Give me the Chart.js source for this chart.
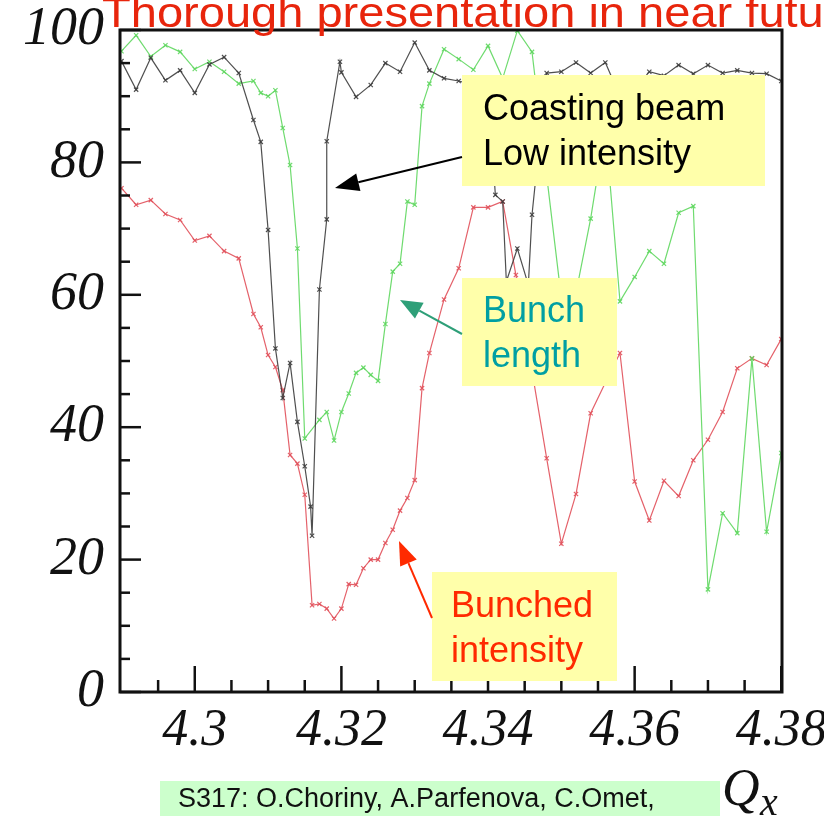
<!DOCTYPE html>
<html>
<head>
<meta charset="utf-8">
<script src="https://cdn.jsdelivr.net/npm/chart.js@4.4.1/dist/chart.umd.min.js"></script>
<style>
  html, body { margin: 0; padding: 0; background: #fff; overflow: hidden; }
  canvas { display: block; }
</style>
</head>
<body>
<canvas id="c" width="824" height="816"></canvas>
<script>
// Tune scan: transmitted fraction (%) versus horizontal tune Qx
const xTicks = [4.30, 4.32, 4.34, 4.36, 4.38];
const yTicks = [0, 20, 40, 60, 80, 100];

// Coasting beam, low intensity
const coastQx = [4.290, 4.292, 4.294, 4.296, 4.298, 4.300, 4.302, 4.304, 4.306, 4.308,
  4.309, 4.310, 4.311, 4.312, 4.313, 4.314, 4.315, 4.3158, 4.316, 4.317,
  4.318, 4.318, 4.3198, 4.320, 4.322, 4.324, 4.326, 4.328, 4.330, 4.332,
  4.334, 4.336, 4.338, 4.340, 4.341, 4.342, 4.3425, 4.344, 4.3455, 4.346,
  4.348, 4.350, 4.352, 4.354, 4.356, 4.358, 4.360, 4.362, 4.364, 4.366,
  4.368, 4.370, 4.372, 4.374, 4.376, 4.378, 4.380];
const coastVal = [95.3, 91.0, 95.8, 92.4, 93.9, 90.5, 94.8, 95.9, 93.5, 86.4,
  83.1, 69.8, 51.9, 44.4, 49.7, 40.8, 34.1, 28.0, 23.6, 60.8,
  71.4, 83.2, 95.2, 93.6, 89.9, 91.7, 95.0, 93.7, 98.1, 93.9,
  92.7, 92.3, 91.7, 91.2, 75.1, 74.1, 62.0, 67.0, 61.5, 72.1,
  93.5, 93.7, 95.1, 93.5, 95.1, 90.0, 91.0, 93.7, 93.1, 94.7,
  93.4, 94.7, 93.5, 93.9, 93.5, 93.4, 92.3];

// Bunch length
const lengthQx = [4.290, 4.292, 4.294, 4.296, 4.298, 4.300, 4.302, 4.304, 4.306, 4.308,
  4.309, 4.310, 4.311, 4.312, 4.313, 4.314, 4.315, 4.317, 4.318, 4.319,
  4.320, 4.321, 4.322, 4.323, 4.324, 4.325, 4.326, 4.327, 4.328, 4.329,
  4.330, 4.331, 4.332, 4.334, 4.336, 4.338, 4.340, 4.342, 4.344, 4.346,
  4.348, 4.3507, 4.354, 4.356, 4.358, 4.360, 4.362, 4.364, 4.366, 4.368,
  4.370, 4.372, 4.374, 4.376, 4.378, 4.380];
const lengthVal = [96.8, 99.2, 96.0, 97.7, 96.7, 94.1, 95.2, 93.7, 91.9, 92.3,
  90.5, 90.0, 90.9, 85.2, 79.6, 67.0, 38.3, 41.1, 42.3, 38.0,
  42.3, 45.1, 48.2, 49.0, 47.9, 47.0, 55.6, 63.5, 64.7, 74.1,
  73.6, 88.5, 91.9, 97.1, 95.6, 94.0, 97.6, 92.7, 99.9, 96.7,
  78.0, 53.0, 71.5, 85.3, 59.0, 62.7, 66.6, 64.7, 72.4, 73.4,
  15.5, 27.0, 24.0, 50.4, 24.2, 36.1];

// Bunched beam intensity
const bunchedQx = [4.290, 4.292, 4.294, 4.296, 4.298, 4.300, 4.302, 4.304, 4.306, 4.308,
  4.309, 4.310, 4.311, 4.312, 4.313, 4.314, 4.315, 4.316, 4.317, 4.318,
  4.319, 4.320, 4.321, 4.322, 4.323, 4.324, 4.325, 4.326, 4.327, 4.328,
  4.329, 4.330, 4.331, 4.332, 4.334, 4.336, 4.338, 4.340, 4.342, 4.3438,
  4.348, 4.350, 4.352, 4.354, 4.356, 4.358, 4.360, 4.362, 4.364, 4.366,
  4.368, 4.370, 4.372, 4.374, 4.376, 4.378, 4.380];
const bunchedVal = [76.1, 73.6, 74.3, 72.2, 71.3, 68.2, 68.9, 66.6, 65.5, 57.1,
  55.1, 50.9, 49.1, 45.6, 35.8, 34.5, 29.8, 13.1, 13.3, 12.6,
  11.1, 12.6, 16.3, 16.2, 18.7, 20.0, 20.0, 22.5, 24.5, 27.4,
  29.3, 32.0, 45.9, 51.2, 59.3, 64.0, 73.2, 73.2, 74.1, 63.0,
  35.3, 22.4, 29.9, 42.1, 46.7, 51.2, 31.8, 25.9, 31.9, 29.6,
  35.0, 38.1, 42.3, 48.9, 50.4, 49.4, 53.3];

const SERIF = '"Liberation Serif", "Times New Roman", serif';
const SANS = '"Liberation Sans", Arial, sans-serif';

const pairs = (xs, ys) => xs.map((q, i) => ({ x: q, y: ys[i] }));

function series(label, xs, ys, color) {
  return {
    label,
    data: pairs(xs, ys),
    showLine: true,
    borderColor: color,
    borderWidth: 1.2,
    pointStyle: 'crossRot',
    pointRadius: 3,
    pointBorderColor: color,
    pointBorderWidth: 1.2,
    pointBackgroundColor: color,
    tension: 0
  };
}

function arrow(ctx, x1, y1, x2, y2, color, head, half) {
  const ang = Math.atan2(y2 - y1, x2 - x1);
  const bx = x2 - head * Math.cos(ang), by = y2 - head * Math.sin(ang);
  ctx.strokeStyle = color; ctx.fillStyle = color; ctx.lineWidth = 2;
  ctx.beginPath(); ctx.moveTo(x1, y1); ctx.lineTo(bx, by); ctx.stroke();
  ctx.beginPath();
  ctx.moveTo(x2, y2);
  ctx.lineTo(bx + half * Math.sin(ang), by - half * Math.cos(ang));
  ctx.lineTo(bx - half * Math.sin(ang), by + half * Math.cos(ang));
  ctx.closePath(); ctx.fill();
}

function note(ctx, box, lines, color, tx, baselines) {
  ctx.fillStyle = '#ffffaa';
  ctx.fillRect(box[0], box[1], box[2], box[3]);
  ctx.fillStyle = color;
  ctx.font = '36px ' + SANS;
  ctx.textAlign = 'left'; ctx.textBaseline = 'alphabetic';
  lines.forEach((t, i) => ctx.fillText(t, tx, baselines[i]));
}

const decor = {
  id: 'decor',
  afterDatasetsDraw(chart) {
    const { ctx, chartArea: a, scales: { x, y } } = chart;
    ctx.save();
    ctx.strokeStyle = '#111';
    ctx.lineWidth = 3;
    ctx.strokeRect(a.left, a.top, a.right - a.left, a.bottom - a.top);
    ctx.lineWidth = 2.5;
    for (let v = 0; v <= 100; v += 5) {
      const py = y.getPixelForValue(v);
      const len = v % 20 === 0 ? 21 : 10;
      ctx.beginPath(); ctx.moveTo(a.left, py); ctx.lineTo(a.left + len, py); ctx.stroke();
    }
    for (let i = 0; i <= 18; i++) {
      const v = 4.29 + i * 0.005;
      const px = x.getPixelForValue(v);
      if (px < a.left + 2) continue;
      const len = (i % 4 === 2) ? 26 : 12;
      ctx.beginPath(); ctx.moveTo(px, a.bottom); ctx.lineTo(px, a.bottom - len); ctx.stroke();
    }
    ctx.restore();
  },
  afterDraw(chart) {
    const ctx = chart.ctx;
    ctx.save();
    // callouts
    note(ctx, [462, 75, 303, 111], ['Coasting beam', 'Low intensity'], '#000', 483, [120, 165]);
    note(ctx, [462, 278, 155, 108], ['Bunch', 'length'], '#009fa3', 483, [322, 367]);
    note(ctx, [432, 572, 185, 109], ['Bunched', 'intensity'], '#ff2a00', 451, [617, 662]);
    arrow(ctx, 462, 157, 335, 188, '#000', 24, 9);
    arrow(ctx, 462, 334, 400, 300, '#2e9f78', 22, 9);
    arrow(ctx, 432, 618, 399, 541, '#ff2a00', 24, 9);

    // heading
    ctx.fillStyle = '#e8250c';
    ctx.font = '42px ' + SANS;
    ctx.textAlign = 'left'; ctx.textBaseline = 'alphabetic';
    ctx.save(); ctx.translate(102, 27); ctx.scale(1.12, 1);
    ctx.fillText('Thorough presentation in near future', 0, 0);
    ctx.restore();

    // axis title
    ctx.fillStyle = '#111';
    ctx.font = 'italic 52px ' + SERIF;
    ctx.fillText('Q', 722, 805);
    ctx.font = 'italic 40px ' + SERIF;
    ctx.fillText('x', 760, 815);

    // footer
    ctx.fillStyle = '#ccffcc';
    ctx.fillRect(160, 781, 560, 40);
    ctx.fillStyle = '#111';
    ctx.font = '27px ' + SANS;
    ctx.fillText('S317: O.Choriny, A.Parfenova, C.Omet,', 178, 807);
    ctx.restore();
  }
};

new Chart(document.getElementById('c'), {
  type: 'scatter',
  data: {
    datasets: [
      series('Coasting beam, low intensity', coastQx, coastVal, 'rgba(60,60,60,0.9)'),
      series('Bunch length', lengthQx, lengthVal, 'rgba(95,215,95,0.9)'),
      series('Bunched intensity', bunchedQx, bunchedVal, 'rgba(225,80,90,0.9)')
    ]
  },
  options: {
    responsive: false,
    animation: false,
    devicePixelRatio: 1,
    layout: { padding: { top: 30, right: 42, left: 0, bottom: 0 } },
    plugins: { legend: { display: false }, tooltip: { enabled: false } },
    scales: {
      x: {
        type: 'linear', min: 4.2898, max: 4.3801,
        afterBuildTicks(s) { s.ticks = xTicks.map(v => ({ value: v })); },
        afterFit(s) { s.height = 124; s.paddingLeft = 0; s.paddingRight = 0; },
        grid: { display: false, drawTicks: false },
        border: { display: false },
        ticks: {
          autoSkip: false, maxRotation: 0, padding: 8, color: '#111',
          font: { family: SERIF, style: 'italic', size: 52 },
          callback: v => String(v)
        }
      },
      y: {
        min: 0, max: 100,
        afterBuildTicks(s) { s.ticks = yTicks.map(v => ({ value: v })); },
        afterFit(s) { s.width = 120; s.paddingTop = 0; s.paddingBottom = 0; },
        grid: { display: false, drawTicks: false },
        border: { display: false },
        ticks: {
          padding: 16, color: '#111',
          font: { family: SERIF, style: 'italic', size: 54 }
        }
      }
    }
  },
  plugins: [decor]
});
</script>
</body>
</html>
